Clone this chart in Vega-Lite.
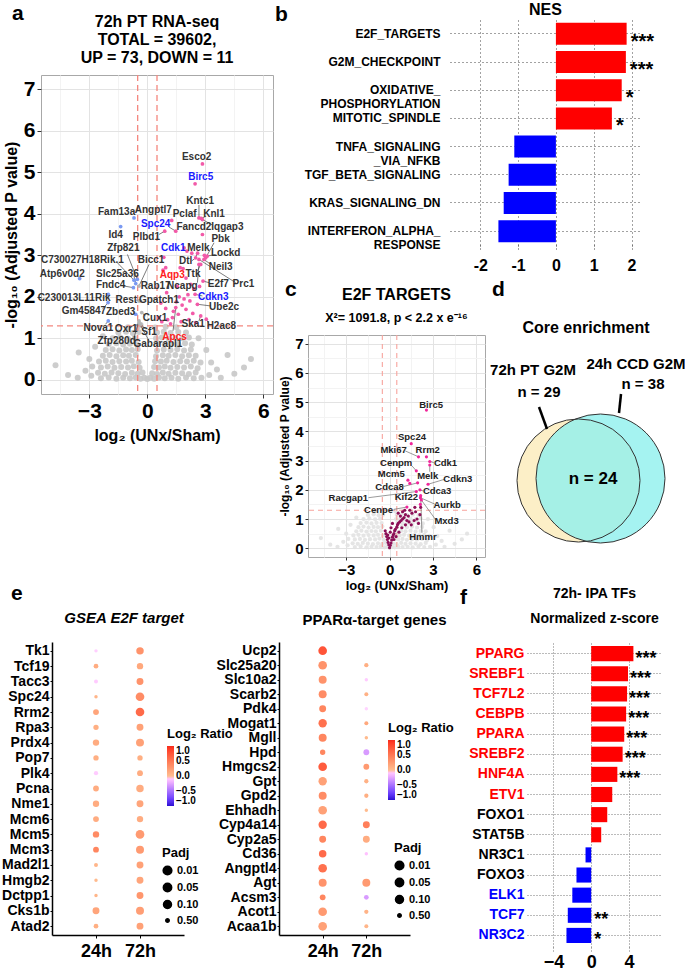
{
"$schema":"https://vega.github.io/schema/vega-lite/v6.json",
"padding":{"left":1,"top":2,"right":2,"bottom":2},
"background":"white",
"config":{
 "font":"Liberation Sans",
 "view":{"stroke":null},
 "axis":{"labelFontWeight":"bold","titleFontWeight":"bold","labelColor":"black","titleColor":"black","tickColor":"#333333","domainColor":"#333333"},
 "title":{"fontWeight":"bold","color":"black","anchor":"middle"},
 "legend":{"labelFontWeight":"bold","titleFontWeight":"bold","labelColor":"black","titleColor":"black"}
},
"datasets":{
 "cloud":[
  {"x":-2.4,"y":0.04},{"x":-2.0,"y":0.06},{"x":-1.6,"y":0.03},{"x":-1.25,"y":0.05},{"x":-0.9,"y":0.04},{"x":-0.6,"y":0.06},{"x":-0.35,"y":0.03},{"x":-0.15,"y":0.05},{"x":0.0,"y":0.02},{"x":0.15,"y":0.05},{"x":0.35,"y":0.03},{"x":0.6,"y":0.06},{"x":0.9,"y":0.04},{"x":1.25,"y":0.05},{"x":1.6,"y":0.03},{"x":2.0,"y":0.06},{"x":2.4,"y":0.04},{"x":2.8,"y":0.05},
  {"x":-2.55,"y":0.17},{"x":-2.2,"y":0.15},{"x":-1.85,"y":0.18},{"x":-1.5,"y":0.16},{"x":-1.15,"y":0.14},{"x":-0.8,"y":0.17},{"x":-0.5,"y":0.15},{"x":-0.25,"y":0.18},{"x":0.25,"y":0.16},{"x":0.5,"y":0.14},{"x":0.8,"y":0.18},{"x":1.1,"y":0.15},{"x":1.45,"y":0.17},{"x":1.8,"y":0.16},{"x":2.15,"y":0.14},{"x":2.5,"y":0.18},
  {"x":-2.4,"y":0.3},{"x":-2.05,"y":0.32},{"x":-1.7,"y":0.29},{"x":-1.35,"y":0.31},{"x":-1.0,"y":0.3},{"x":-0.7,"y":0.33},{"x":-0.4,"y":0.29},{"x":0.35,"y":0.31},{"x":0.6,"y":0.3},{"x":0.9,"y":0.32},{"x":1.2,"y":0.29},{"x":1.55,"y":0.31},{"x":1.9,"y":0.3},{"x":2.25,"y":0.32},{"x":2.6,"y":0.28},
  {"x":-2.5,"y":0.44},{"x":-2.15,"y":0.46},{"x":-1.8,"y":0.43},{"x":-1.45,"y":0.45},{"x":-1.1,"y":0.44},{"x":-0.8,"y":0.46},{"x":-0.45,"y":0.43},{"x":0.4,"y":0.45},{"x":0.7,"y":0.44},{"x":1.0,"y":0.46},{"x":1.35,"y":0.43},{"x":1.7,"y":0.45},{"x":2.05,"y":0.44},{"x":2.4,"y":0.46},{"x":2.75,"y":0.42},
  {"x":-2.3,"y":0.58},{"x":-1.95,"y":0.6},{"x":-1.6,"y":0.57},{"x":-1.25,"y":0.59},{"x":-0.95,"y":0.58},{"x":-0.6,"y":0.6},{"x":0.45,"y":0.57},{"x":0.8,"y":0.59},{"x":1.1,"y":0.58},{"x":1.45,"y":0.6},{"x":1.8,"y":0.57},{"x":2.15,"y":0.59},{"x":2.5,"y":0.58},
  {"x":-2.15,"y":0.72},{"x":-1.8,"y":0.74},{"x":-1.45,"y":0.71},{"x":-1.1,"y":0.73},{"x":-0.8,"y":0.72},{"x":-0.5,"y":0.74},{"x":0.5,"y":0.71},{"x":0.85,"y":0.73},{"x":1.2,"y":0.72},{"x":1.55,"y":0.74},{"x":1.9,"y":0.71},{"x":2.25,"y":0.73},
  {"x":-2.0,"y":0.86},{"x":-1.6,"y":0.88},{"x":-1.25,"y":0.85},{"x":-0.9,"y":0.87},{"x":-0.55,"y":0.86},{"x":0.55,"y":0.88},{"x":0.9,"y":0.85},{"x":1.25,"y":0.87},{"x":1.6,"y":0.86},{"x":1.95,"y":0.88},{"x":2.3,"y":0.85},
  {"x":-1.8,"y":1.0},{"x":-1.4,"y":1.02},{"x":-1.0,"y":0.99},{"x":-0.65,"y":1.01},{"x":0.45,"y":1.0},{"x":0.75,"y":1.02},{"x":1.1,"y":0.99},{"x":1.45,"y":1.01},{"x":1.8,"y":1.0},{"x":2.15,"y":1.02},
  {"x":-1.5,"y":1.14},{"x":-1.1,"y":1.16},{"x":-0.75,"y":1.13},{"x":-0.45,"y":1.15},{"x":0.5,"y":1.14},{"x":0.85,"y":1.16},{"x":1.2,"y":1.13},{"x":1.6,"y":1.15},{"x":2.0,"y":1.14},
  {"x":-1.0,"y":1.27},{"x":-0.5,"y":1.28},{"x":0.4,"y":1.26},{"x":0.95,"y":1.28},{"x":1.5,"y":1.27},
  {"x":-4.75,"y":0.35},{"x":-3.55,"y":0.66},{"x":-3.2,"y":0.22},{"x":-3.0,"y":0.5},{"x":-2.9,"y":0.1},{"x":-2.85,"y":0.32},{"x":-4.1,"y":0.12},{"x":-2.7,"y":0.8},{"x":3.2,"y":0.12},{"x":3.3,"y":0.42},{"x":3.6,"y":0.25},{"x":4.15,"y":0.6},{"x":4.5,"y":0.15},{"x":5.36,"y":0.5},{"x":5.0,"y":0.3},{"x":3.05,"y":0.72},{"x":2.65,"y":1.0},{"x":-0.35,"y":1.32},{"x":-2.3,"y":1.05},{"x":3.8,"y":0.05},{"x":-3.6,"y":0.05}
 ],
 "aPts":[
  {"x":2.85,"y":5.2,"g":"up"},{"x":2.47,"y":4.72,"g":"up"},{"x":2.67,"y":3.9,"g":"up"},{"x":2.79,"y":3.89,"g":"up"},{"x":2.85,"y":3.86,"g":"up"},{"x":1.26,"y":3.84,"g":"up"},{"x":1.47,"y":3.58,"g":"up"},{"x":0.9,"y":3.58,"g":"up"},{"x":2.85,"y":3.5,"g":"up"},{"x":1.9,"y":3.18,"g":"up"},{"x":2.5,"y":2.94,"g":"up"},{"x":3.02,"y":2.94,"g":"up"},{"x":3.1,"y":2.98,"g":"up"},{"x":2.93,"y":2.9,"g":"up"},{"x":2.76,"y":2.78,"g":"up"},{"x":2.67,"y":2.9,"g":"up"},{"x":2.88,"y":2.38,"g":"up"},{"x":2.47,"y":2.06,"g":"up"},{"x":2.59,"y":1.82,"g":"up"},{"x":2.76,"y":1.54,"g":"up"},{"x":3.05,"y":1.46,"g":"up"},{"x":1.47,"y":1.74,"g":"up"},{"x":0.81,"y":2.64,"g":"up"},{"x":0.85,"y":2.95,"g":"up"},{"x":0.95,"y":2.7,"g":"up"},{"x":1.7,"y":2.7,"g":"up"},{"x":1.85,"y":2.68,"g":"up"},{"x":2.05,"y":3.1,"g":"up"},{"x":2.3,"y":3.05,"g":"up"},{"x":2.6,"y":3.05,"g":"up"},{"x":2.95,"y":3.0,"g":"up"},{"x":2.0,"y":2.45,"g":"up"},{"x":2.25,"y":2.3,"g":"up"},{"x":2.4,"y":2.2,"g":"up"},{"x":2.7,"y":2.25,"g":"up"},{"x":1.65,"y":2.0,"g":"up"},{"x":1.9,"y":1.95,"g":"up"},{"x":2.1,"y":2.05,"g":"up"},{"x":1.5,"y":1.88,"g":"up"},{"x":1.8,"y":1.8,"g":"up"},{"x":1.35,"y":1.65,"g":"up"},{"x":1.6,"y":1.58,"g":"up"},{"x":2.0,"y":1.7,"g":"up"},{"x":2.35,"y":1.6,"g":"up"},{"x":1.05,"y":1.45,"g":"up"},{"x":1.3,"y":1.5,"g":"up"},{"x":1.75,"y":1.4,"g":"up"},{"x":2.15,"y":1.45,"g":"up"},{"x":0.75,"y":1.4,"g":"up"},{"x":0.95,"y":1.72,"g":"up"},{"x":1.2,"y":1.35,"g":"up"},{"x":2.5,"y":1.38,"g":"up"},{"x":1.55,"y":2.25,"g":"up"},{"x":2.2,"y":1.9,"g":"up"},{"x":0.6,"y":1.5,"g":"up"},{"x":0.7,"y":1.85,"g":"up"},{"x":1.0,"y":2.1,"g":"up"},{"x":2.67,"y":2.78,"g":"up"},
  {"x":-0.69,"y":3.9,"g":"down"},{"x":-1.38,"y":3.69,"g":"down"},{"x":-3.5,"y":2.44,"g":"down"},{"x":-0.52,"y":2.42,"g":"down"},{"x":-0.69,"y":2.4,"g":"down"},{"x":-0.6,"y":2.32,"g":"down"},{"x":-0.72,"y":2.22,"g":"down"},{"x":-2.02,"y":2.06,"g":"down"},{"x":-2.03,"y":1.86,"g":"down"},{"x":-2.02,"y":1.42,"g":"down"},{"x":-0.6,"y":1.58,"g":"down"},
  {"x":-0.43,"y":1.38,"g":"ns"},{"x":-0.43,"y":1.9,"g":"ns"},{"x":-0.29,"y":1.62,"g":"ns"},{"x":-0.34,"y":1.34,"g":"ns"},{"x":-0.43,"y":2.26,"g":"ns"},{"x":-0.4,"y":1.9,"g":"ns"},{"x":-0.43,"y":1.42,"g":"ns"}
 ],
 "aLab":[
  {"lab":"Esco2","lx":2.55,"ly":5.37,"c":"k"},
  {"lab":"Birc5","lx":2.76,"ly":4.89,"c":"b"},
  {"lab":"Kntc1","lx":2.73,"ly":4.3,"c":"k","ex":2.67,"ey":4.21,"px":2.67,"py":3.9},
  {"lab":"Knl1","lx":3.45,"ly":4.0,"c":"k","ex":3.05,"ey":3.94,"px":2.79,"py":3.89},
  {"lab":"Pclaf","lx":1.93,"ly":4.0,"c":"k"},
  {"lab":"Angptl7","lx":0.31,"ly":4.08,"c":"k"},
  {"lab":"Spc24","lx":0.43,"ly":3.76,"c":"b","ex":1.12,"ey":3.68,"px":1.47,"py":3.58},
  {"lab":"Iqgap3","lx":4.14,"ly":3.68,"c":"k","ex":3.36,"ey":3.73,"px":2.85,"py":3.86},
  {"lab":"Fancd2","lx":2.41,"ly":3.68,"c":"k"},
  {"lab":"Plbd1","lx":-0.05,"ly":3.44,"c":"k","ex":0.6,"ey":3.5,"px":0.9,"py":3.58},
  {"lab":"Fam13a","lx":-1.59,"ly":4.05,"c":"k"},
  {"lab":"Id4","lx":-1.64,"ly":3.5,"c":"k"},
  {"lab":"Zfp821","lx":-1.24,"ly":3.17,"c":"k","ex":-1.03,"ey":3.02,"px":-0.52,"py":2.42},
  {"lab":"C730027H18Rik.1","lx":-3.36,"ly":2.88,"c":"k","ex":-1.55,"ey":2.82,"px":-0.69,"py":2.4},
  {"lab":"Atp6v0d2","lx":-4.4,"ly":2.56,"c":"k"},
  {"lab":"Slc25a36","lx":-1.55,"ly":2.56,"c":"k","ex":-0.69,"ey":2.5,"px":-0.6,"py":2.32},
  {"lab":"Fndc4","lx":-1.9,"ly":2.28,"c":"k","ex":-1.21,"ey":2.26,"px":-0.72,"py":2.22},
  {"lab":"C230013L11Rik","lx":-3.79,"ly":1.98,"c":"k","ex":-2.19,"ey":2.0,"px":-2.02,"py":2.06},
  {"lab":"Gm45847","lx":-3.28,"ly":1.66,"c":"k","ex":-2.33,"ey":1.7,"px":-2.03,"py":1.86},
  {"lab":"Nova1","lx":-2.53,"ly":1.26,"c":"k","ex":-2.16,"ey":1.34,"px":-2.02,"py":1.42},
  {"lab":"Zbed3","lx":-1.38,"ly":1.63,"c":"k","ex":-0.74,"ey":1.62,"px":-0.6,"py":1.58},
  {"lab":"Oxr1","lx":-1.09,"ly":1.23,"c":"k","ex":-0.6,"ey":1.3,"px":-0.43,"py":1.38},
  {"lab":"Zfp280d","lx":-1.59,"ly":0.94,"c":"k","ex":-0.69,"ey":1.02,"px":-0.43,"py":1.42},
  {"lab":"Rest","lx":-1.09,"ly":1.92,"c":"k","ex":-0.57,"ey":1.92,"px":-0.43,"py":1.9},
  {"lab":"Gpatch1","lx":0.6,"ly":1.93,"c":"k","ex":-0.26,"ey":1.92,"px":-0.4,"py":1.9},
  {"lab":"Cux1","lx":0.4,"ly":1.48,"c":"k","ex":-0.09,"ey":1.54,"px":-0.29,"py":1.62},
  {"lab":"Sf1","lx":0.09,"ly":1.16,"c":"k","ex":-0.09,"ey":1.22,"px":-0.34,"py":1.34},
  {"lab":"Gabarapl1","lx":0.55,"ly":0.86,"c":"k","ex":0.09,"ey":0.94,"px":-0.43,"py":1.38},
  {"lab":"Bicc1","lx":0.19,"ly":2.88,"c":"k","ex":0.09,"ey":2.78,"px":-0.43,"py":2.26},
  {"lab":"Rab17","lx":0.43,"ly":2.26,"c":"k"},
  {"lab":"Ncapg","lx":1.81,"ly":2.25,"c":"k","ex":2.59,"ey":2.34,"px":2.67,"py":2.78},
  {"lab":"Aqp3","lx":1.29,"ly":2.52,"c":"r"},
  {"lab":"Cdk1","lx":1.34,"ly":3.17,"c":"b"},
  {"lab":"Melk","lx":2.64,"ly":3.17,"c":"k","ex":2.59,"ey":3.08,"px":2.5,"py":2.94},
  {"lab":"Pbk","lx":3.79,"ly":3.38,"c":"k","ex":3.45,"ey":3.3,"px":3.02,"py":2.94},
  {"lab":"Lockd","lx":4.05,"ly":3.06,"c":"k","ex":3.53,"ey":3.02,"px":3.1,"py":2.98},
  {"lab":"Dtl","lx":1.98,"ly":2.86,"c":"k","ex":2.29,"ey":2.86,"px":2.5,"py":2.94},
  {"lab":"Neil3","lx":3.79,"ly":2.72,"c":"k","ex":3.28,"ey":2.78,"px":2.93,"py":2.9},
  {"lab":"Ttk","lx":2.36,"ly":2.54,"c":"k","ex":2.59,"ey":2.62,"px":2.76,"py":2.78},
  {"lab":"Prc1","lx":4.97,"ly":2.3,"c":"k","ex":4.57,"ey":2.34,"px":2.67,"py":2.9},
  {"lab":"E2f7","lx":3.67,"ly":2.3,"c":"k","ex":3.19,"ey":2.34,"px":2.88,"py":2.38},
  {"lab":"Cdkn3","lx":3.41,"ly":2.0,"c":"b","ex":2.85,"ey":2.02,"px":2.47,"py":2.06},
  {"lab":"Ube2c","lx":3.97,"ly":1.75,"c":"k","ex":3.28,"ey":1.78,"px":2.59,"py":1.82},
  {"lab":"Ska1","lx":2.37,"ly":1.35,"c":"k","ex":2.67,"ey":1.42,"px":2.76,"py":1.54},
  {"lab":"H2ac8","lx":3.83,"ly":1.3,"c":"k","ex":3.19,"ey":1.35,"px":3.05,"py":1.46},
  {"lab":"Apcs","lx":1.41,"ly":1.04,"c":"r","ex":1.33,"ey":1.18,"px":1.47,"py":1.74}
 ],
 "cPts":[
  {"x":0.0,"y":0.02,"g":"p"},{"x":0.05,"y":0.1,"g":"p"},{"x":0.1,"y":0.18,"g":"p"},{"x":-0.05,"y":0.12,"g":"p"},{"x":-0.1,"y":0.2,"g":"p"},{"x":-0.15,"y":0.3,"g":"p"},{"x":-0.2,"y":0.4,"g":"p"},{"x":-0.25,"y":0.5,"g":"p"},{"x":-0.3,"y":0.6,"g":"p"},{"x":-0.12,"y":0.45,"g":"p"},{"x":0.15,"y":0.28,"g":"p"},{"x":0.2,"y":0.38,"g":"p"},{"x":0.25,"y":0.45,"g":"p"},{"x":0.3,"y":0.5,"g":"p"},{"x":0.35,"y":0.6,"g":"p"},{"x":0.4,"y":0.65,"g":"p"},{"x":0.5,"y":0.72,"g":"p"},{"x":0.55,"y":0.8,"g":"p"},{"x":0.6,"y":0.85,"g":"p"},{"x":0.7,"y":0.9,"g":"p"},{"x":0.8,"y":0.95,"g":"p"},{"x":0.9,"y":1.0,"g":"p"},{"x":1.0,"y":1.05,"g":"p"},{"x":0.75,"y":1.1,"g":"p"},{"x":1.1,"y":1.15,"g":"p"},{"x":1.2,"y":0.95,"g":"p"},{"x":1.35,"y":0.9,"g":"p"},{"x":1.5,"y":0.8,"g":"p"},{"x":1.7,"y":0.95,"g":"p"},{"x":1.9,"y":1.0,"g":"p"},{"x":2.0,"y":0.85,"g":"p"},{"x":0.45,"y":0.4,"g":"p"},{"x":0.3,"y":0.3,"g":"p"},{"x":0.65,"y":0.55,"g":"p"},{"x":1.55,"y":1.2,"g":"p"},{"x":1.8,"y":1.25,"g":"p"},{"x":2.1,"y":1.15,"g":"p"},{"x":0.9,"y":1.25,"g":"p"},{"x":1.05,"y":1.3,"g":"p"},{"x":1.4,"y":1.3,"g":"p"},{"x":1.75,"y":1.4,"g":"p"},{"x":2.15,"y":1.4,"g":"p"},{"x":0.6,"y":1.2,"g":"p"},{"x":-0.05,"y":0.35,"g":"p"},{"x":0.05,"y":0.55,"g":"p"},{"x":0.1,"y":0.7,"g":"p"},{"x":0.2,"y":0.85,"g":"p"},{"x":1.3,"y":1.1,"g":"p"},{"x":1.1,"y":0.8,"g":"p"},{"x":0.85,"y":0.7,"g":"p"},
  {"x":2.55,"y":4.73,"g":"m"},{"x":1.5,"y":3.58,"g":"m"},{"x":2.0,"y":3.13,"g":"m"},{"x":2.55,"y":3.13,"g":"m"},{"x":2.78,"y":2.97,"g":"m"},{"x":1.85,"y":2.65,"g":"m"},{"x":2.78,"y":2.85,"g":"m"},{"x":1.27,"y":2.33,"g":"m"},{"x":1.4,"y":2.22,"g":"m"},{"x":2.66,"y":2.19,"g":"m"},{"x":1.94,"y":2.24,"g":"m"},{"x":2.1,"y":2.0,"g":"m"},{"x":1.85,"y":1.94,"g":"m"},{"x":2.13,"y":1.73,"g":"m"},{"x":1.2,"y":1.41,"g":"m"},{"x":2.13,"y":1.5,"g":"m"},{"x":2.2,"y":1.65,"g":"m"},{"x":2.15,"y":1.8,"g":"m"}
 ],
 "cLab":[
  {"lab":"Birc5","lx":2.87,"ly":4.9},
  {"lab":"Spc24","lx":1.55,"ly":3.82},
  {"lab":"Mki67","lx":0.28,"ly":3.36,"ex":1.09,"ey":3.33,"px":2.0,"py":3.13},
  {"lab":"Rrm2","lx":2.64,"ly":3.36},
  {"lab":"Cdk1","lx":3.87,"ly":2.91,"ex":3.06,"ey":2.93,"px":2.78,"py":2.97},
  {"lab":"Cenpm","lx":0.46,"ly":2.93,"ex":1.55,"ey":2.82,"px":1.85,"py":2.65},
  {"lab":"Melk","lx":2.64,"ly":2.49,"ex":2.78,"ey":2.62,"px":2.78,"py":2.85},
  {"lab":"Mcm5","lx":0.12,"ly":2.53},
  {"lab":"Cdkn3","lx":4.72,"ly":2.38,"ex":3.8,"ey":2.36,"px":2.66,"py":2.19},
  {"lab":"Cdca8","lx":0.0,"ly":2.11,"ex":0.86,"ey":2.1,"px":1.94,"py":2.24},
  {"lab":"Cdca3","lx":3.29,"ly":1.96,"ex":2.31,"ey":1.96,"px":2.1,"py":2.0},
  {"lab":"Racgap1","lx":-2.85,"ly":1.73,"ex":-1.46,"ey":1.73,"px":1.85,"py":1.94},
  {"lab":"Kif22","lx":1.16,"ly":1.75},
  {"lab":"Aurkb","lx":3.98,"ly":1.47,"ex":3.17,"ey":1.5,"px":2.13,"py":1.73},
  {"lab":"Cenpe","lx":-0.76,"ly":1.3,"ex":0.28,"ey":1.33,"px":1.2,"py":1.41},
  {"lab":"Mxd3","lx":3.94,"ly":0.93,"ex":3.17,"ey":0.99,"px":2.2,"py":1.65},
  {"lab":"Hmmr","lx":2.31,"ly":0.39,"ex":2.24,"ey":0.53,"px":2.15,"py":1.8}
 ],
 "nes":[
  {"term":"E2F_TARGETS","nes":1.87,"st":"***"},
  {"term":"G2M_CHECKPOINT","nes":1.85,"st":"***"},
  {"term":"OXIDATIVE_ PHOSPHORYLATION","nes":1.74,"st":"*"},
  {"term":"MITOTIC_SPINDLE","nes":1.48,"st":"*"},
  {"term":"TNFA_SIGNALING _VIA_NFKB","nes":-1.1,"st":""},
  {"term":"TGF_BETA_SIGNALING","nes":-1.25,"st":""},
  {"term":"KRAS_SIGNALING_DN","nes":-1.38,"st":""},
  {"term":"INTERFERON_ALPHA_ RESPONSE","nes":-1.52,"st":""}
 ],
 "e2f":[
  {"gene":"Tk1","t":"24h","lr":-0.05,"padj":0.5},{"gene":"Tk1","t":"72h","lr":0.3,"padj":0.16},
  {"gene":"Tcf19","t":"24h","lr":0.12,"padj":0.42},{"gene":"Tcf19","t":"72h","lr":0.15,"padj":0.28},
  {"gene":"Tacc3","t":"24h","lr":-0.07,"padj":0.47},{"gene":"Tacc3","t":"72h","lr":0.3,"padj":0.22},
  {"gene":"Spc24","t":"24h","lr":0.05,"padj":0.5},{"gene":"Spc24","t":"72h","lr":0.35,"padj":0.01},
  {"gene":"Rrm2","t":"24h","lr":0.17,"padj":0.33},{"gene":"Rrm2","t":"72h","lr":0.6,"padj":0.01},
  {"gene":"Rpa3","t":"24h","lr":0.1,"padj":0.37},{"gene":"Rpa3","t":"72h","lr":0.2,"padj":0.22},
  {"gene":"Prdx4","t":"24h","lr":0.12,"padj":0.28},{"gene":"Prdx4","t":"72h","lr":0.2,"padj":0.1},
  {"gene":"Pop7","t":"24h","lr":0.1,"padj":0.37},{"gene":"Pop7","t":"72h","lr":0.1,"padj":0.37},
  {"gene":"Plk4","t":"24h","lr":-0.07,"padj":0.45},{"gene":"Plk4","t":"72h","lr":0.12,"padj":0.33},
  {"gene":"Pcna","t":"24h","lr":0.12,"padj":0.33},{"gene":"Pcna","t":"72h","lr":0.12,"padj":0.16},
  {"gene":"Nme1","t":"24h","lr":0.12,"padj":0.28},{"gene":"Nme1","t":"72h","lr":0.17,"padj":0.22},
  {"gene":"Mcm6","t":"24h","lr":0.12,"padj":0.33},{"gene":"Mcm6","t":"72h","lr":0.12,"padj":0.28},
  {"gene":"Mcm5","t":"24h","lr":0.35,"padj":0.28},{"gene":"Mcm5","t":"72h","lr":0.25,"padj":0.01},
  {"gene":"Mcm3","t":"24h","lr":0.4,"padj":0.33},{"gene":"Mcm3","t":"72h","lr":0.25,"padj":0.1},
  {"gene":"Mad2l1","t":"24h","lr":0.05,"padj":0.47},{"gene":"Mad2l1","t":"72h","lr":0.2,"padj":0.22},
  {"gene":"Hmgb2","t":"24h","lr":0.02,"padj":0.5},{"gene":"Hmgb2","t":"72h","lr":0.17,"padj":0.22},
  {"gene":"Dctpp1","t":"24h","lr":0.05,"padj":0.5},{"gene":"Dctpp1","t":"72h","lr":0.28,"padj":0.22},
  {"gene":"Cks1b","t":"24h","lr":0.17,"padj":0.22},{"gene":"Cks1b","t":"72h","lr":0.22,"padj":0.1},
  {"gene":"Atad2","t":"24h","lr":0.1,"padj":0.42},{"gene":"Atad2","t":"72h","lr":0.2,"padj":0.22}
 ],
 "ppar":[
  {"gene":"Ucp2","t":"24h","lr":0.75,"padj":0.01},
  {"gene":"Slc25a20","t":"24h","lr":0.3,"padj":0.01},{"gene":"Slc25a20","t":"72h","lr":0.1,"padj":0.45},
  {"gene":"Slc10a2","t":"24h","lr":0.3,"padj":0.1},{"gene":"Slc10a2","t":"72h","lr":-0.07,"padj":0.5},
  {"gene":"Scarb2","t":"24h","lr":0.35,"padj":0.1},{"gene":"Scarb2","t":"72h","lr":0.08,"padj":0.47},
  {"gene":"Pdk4","t":"24h","lr":0.4,"padj":0.22},{"gene":"Pdk4","t":"72h","lr":-0.03,"padj":0.5},
  {"gene":"Mogat1","t":"24h","lr":0.55,"padj":0.05},{"gene":"Mogat1","t":"72h","lr":0.15,"padj":0.47},
  {"gene":"Mgll","t":"24h","lr":0.4,"padj":0.1},{"gene":"Mgll","t":"72h","lr":0.02,"padj":0.5},
  {"gene":"Hpd","t":"24h","lr":0.4,"padj":0.37},{"gene":"Hpd","t":"72h","lr":-0.3,"padj":0.33},
  {"gene":"Hmgcs2","t":"24h","lr":0.7,"padj":0.01},{"gene":"Hmgcs2","t":"72h","lr":0.25,"padj":0.33},
  {"gene":"Gpt","t":"24h","lr":0.2,"padj":0.05},{"gene":"Gpt","t":"72h","lr":0.08,"padj":0.45},
  {"gene":"Gpd2","t":"24h","lr":0.35,"padj":0.1},{"gene":"Gpd2","t":"72h","lr":0.1,"padj":0.45},
  {"gene":"Ehhadh","t":"24h","lr":0.2,"padj":0.01},{"gene":"Ehhadh","t":"72h","lr":0.01,"padj":0.5},
  {"gene":"Cyp4a14","t":"24h","lr":0.6,"padj":0.05},{"gene":"Cyp4a14","t":"72h","lr":0.45,"padj":0.22},
  {"gene":"Cyp2a5","t":"24h","lr":0.4,"padj":0.22},{"gene":"Cyp2a5","t":"72h","lr":0.12,"padj":0.22},
  {"gene":"Cd36","t":"24h","lr":0.6,"padj":0.16},{"gene":"Cd36","t":"72h","lr":-0.12,"padj":0.5},
  {"gene":"Angptl4","t":"24h","lr":0.55,"padj":0.01},
  {"gene":"Agt","t":"24h","lr":0.3,"padj":0.1},{"gene":"Agt","t":"72h","lr":0.25,"padj":0.1},
  {"gene":"Acsm3","t":"24h","lr":0.4,"padj":0.33},{"gene":"Acsm3","t":"72h","lr":-0.3,"padj":0.42},
  {"gene":"Acot1","t":"24h","lr":0.25,"padj":0.01},{"gene":"Acot1","t":"72h","lr":0.07,"padj":0.45},
  {"gene":"Acaa1b","t":"24h","lr":0.2,"padj":0.01},{"gene":"Acaa1b","t":"72h","lr":0.05,"padj":0.47}
 ],
 "tfs":[
  {"tf":"PPARG","z":4.47,"st":"***"},{"tf":"SREBF1","z":3.9,"st":"***"},{"tf":"TCF7L2","z":3.8,"st":"***"},{"tf":"CEBPB","z":3.7,"st":"***"},{"tf":"PPARA","z":3.5,"st":"***"},{"tf":"SREBF2","z":3.33,"st":"***"},{"tf":"HNF4A","z":2.77,"st":"***"},{"tf":"ETV1","z":2.23,"st":""},{"tf":"FOXO1","z":1.7,"st":""},{"tf":"STAT5B","z":1.06,"st":""},{"tf":"NR3C1","z":-0.6,"st":""},{"tf":"FOXO3","z":-1.56,"st":""},{"tf":"ELK1","z":-2.0,"st":""},{"tf":"TCF7","z":-2.48,"st":"**"},{"tf":"NR3C2","z":-2.62,"st":"*"}
 ],
 "venn":[{"set":"PT","cx":70.5,"cy":145.5},{"set":"CCD","cx":92.5,"cy":143.5}],
 "vennTxt":[
  {"txt":"Core enrichment","tx":78,"ty":-7,"k":"title"},
  {"txt":"72h PT G2M","tx":25,"ty":35,"k":"lab"},{"txt":"n = 29","tx":31,"ty":57,"k":"lab"},
  {"txt":"24h CCD G2M","tx":128,"ty":29,"k":"lab"},{"txt":"n = 38","tx":135,"ty":49,"k":"lab"},
  {"txt":"n = 24","tx":85,"ty":144,"k":"mid"}
 ],
 "vennLines":[{"x1":31,"y1":72,"x2":39,"y2":94},{"x1":113,"y1":59,"x2":111,"y2":78}]
},
"spacing":-10,"bounds":"full",
"resolve":{"scale":{"x":"independent","y":"independent","color":"independent","size":"independent"},"axis":{"x":"independent","y":"independent"},"legend":{"color":"independent","size":"independent"}},
"vconcat":[
 {"hconcat":[
  {"vconcat":[
   {"width":232,"height":35,"data":{"values":[{"k":1}]},"mark":{"type":"point","opacity":0},"encoding":{},
    "title":{"text":"a","anchor":"start","fontSize":21,"dx":-29,"dy":22,"offset":1,"baseline":"alphabetic"}},
   {"width":232,"height":319,
    "view":{"stroke":"#a8a8a8","strokeWidth":1},
    "title":{"text":["72h PT RNA-seq","TOTAL = 39602,","UP = 73, DOWN = 11"],"fontSize":16,"lineHeight":18,"offset":8},
    "resolve":{"axis":{"x":"independent"}},
    "layer":[
     {"data":{"name":"cloud"},"mark":{"type":"circle","size":36,"color":"#c8c8c8","opacity":0.9},
      "encoding":{
       "x":{"field":"x","type":"quantitative","scale":{"domain":[-5.5,6.5],"nice":false,"zero":false},
        "axis":{"title":"log₂ (UNx/Sham)","values":[-3,0,3,6],"grid":true,"gridColor":"#e3e3e3","labelOverlap":false,"labelFlush":false,
         "domain":false,"tickSize":4,"labelFontSize":21,"titleFontSize":16,"labelPadding":2,"titlePadding":6}},
       "y":{"field":"y","type":"quantitative","scale":{"domain":[-0.34,7.34],"nice":false,"zero":false},
        "axis":{"title":"-log₁₀ (Adjusted P value)","values":[0,0.5,1,1.5,2,2.5,3,3.5,4,4.5,5,5.5,6,6.5,7],"labelExpr":"datum.value % 1 == 0 ? datum.label : ''","grid":true,"labelOverlap":"greedy","labelSeparation":0,"labelFlush":false,
         "gridColor":{"condition":{"test":"datum.value % 1 != 0","value":"#f3f3f3"},"value":"#e3e3e3"},
         "tickColor":{"condition":{"test":"datum.value % 1 != 0","value":"transparent"},"value":"#333333"},
         "domain":false,"tickSize":4,"labelFontSize":21,"titleFontSize":16,"labelPadding":2,"titlePadding":4}}
      }},
     {"data":{"values":[{"v":-0.5},{"v":0.5}]},"mark":{"type":"rule","color":"#f4877f","strokeDash":[6,4],"strokeWidth":1.3},
      "encoding":{"x":{"field":"v","type":"quantitative","axis":{"orient":"top","values":[-4.5,-1.5,1.5,4.5],"labels":false,"ticks":false,"domain":false,"grid":true,"gridColor":"#f3f3f3","title":null}}}},
     {"data":{"values":[{"v":1.301}]},"mark":{"type":"rule","color":"#f4877f","strokeDash":[6,4],"strokeWidth":1.3},"encoding":{"y":{"field":"v","type":"quantitative"}}},
     {"data":{"name":"aLab"},"transform":[{"filter":"isValid(datum.ex)"}],"mark":{"type":"rule","color":"#444444","strokeWidth":0.7},
      "encoding":{"x":{"field":"ex","type":"quantitative","axis":null},"y":{"field":"ey","type":"quantitative"},"x2":{"field":"px"},"y2":{"field":"py"}}},
     {"data":{"name":"aPts"},"mark":{"type":"circle","size":14,"opacity":1},
      "encoding":{"x":{"field":"x","type":"quantitative","axis":null},"y":{"field":"y","type":"quantitative"},
       "color":{"condition":[{"test":"datum.g == 'up'","value":"#f25aa8"},{"test":"datum.g == 'down'","value":"#7b9af2"}],"value":"#b5b5b5"}}},
     {"data":{"name":"aLab"},"mark":{"type":"text","fontSize":10,"fontWeight":"bold"},
      "encoding":{"x":{"field":"lx","type":"quantitative","axis":null},"y":{"field":"ly","type":"quantitative"},"text":{"field":"lab"},
       "color":{"condition":[{"test":"datum.c == 'b'","value":"#1a1aff"},{"test":"datum.c == 'r'","value":"#ff2020"}],"value":"#333333"}}}
    ]}
  ],"spacing":20,"bounds":"flush",
  "resolve":{"scale":{"x":"independent","y":"independent","color":"independent","size":"independent"},"axis":{"x":"independent","y":"independent"},"legend":{"color":"independent","size":"independent"}}},
  {"vconcat":[
   {"hconcat":[
     {"width":146,"height":225,"data":{"values":[{"k":1}]},"mark":{"type":"point","opacity":0},"encoding":{},
      "title":{"text":"b","anchor":"start","fontSize":21,"dx":-9,"dy":22,"offset":0,"baseline":"alphabetic"}},
     {"width":191,"height":225,
      "title":{"text":"NES","fontSize":16,"offset":6,"dy":17,"baseline":"alphabetic"},
      "data":{"name":"nes"},
      "layer":[
       {"mark":{"type":"bar"},
        "encoding":{
         "y":{"field":"term","type":"nominal","sort":null,"scale":{"paddingInner":0.22,"paddingOuter":0.1},
          "axis":{"title":null,"domain":false,"ticks":false,"grid":true,"gridDash":[1,3],"gridColor":"#444444","bandPosition":0.5,"labelFontSize":12,"labelPadding":10,"labelExpr":"split(datum.label, ' ')","labelLineHeight":14}},
         "x":{"field":"nes","type":"quantitative","scale":{"domain":[-2.8,2.25],"nice":false,"zero":false},
          "axis":{"title":null,"values":[-2,-1,0,1,2],"labelExpr":"'' + datum.value","domain":false,"grid":true,"gridDash":[1,3],"gridColor":"#444444","tickDash":[1,2],"tickColor":"#444444","tickSize":6,"labelFontSize":16,"labelPadding":6}},
         "x2":{"datum":0},
         "color":{"condition":{"test":"datum.nes > 0","value":"#ff0000"},"value":"#0000ff"}
        }},
       {"mark":{"type":"text","align":"left","baseline":"middle","dx":4,"dy":8,"fontSize":20,"fontWeight":"bold"},
        "encoding":{"y":{"field":"term","type":"nominal","sort":null},"x":{"field":"nes","type":"quantitative"},"text":{"field":"st"}}}
      ]}
    ],"spacing":20,"bounds":"flush",
    "resolve":{"scale":{"x":"independent","y":"independent","color":"independent","size":"independent"},"axis":{"x":"independent","y":"independent"},"legend":{"color":"independent","size":"independent"}}},
   {"hconcat":[
     {"width":24,"height":222,"data":{"values":[{"k":1}]},"mark":{"type":"point","opacity":0},"encoding":{},
      "title":{"text":"c","anchor":"start","fontSize":21,"dx":1,"dy":20,"offset":38,"baseline":"alphabetic"}},
     {"width":177,"height":222,
      "view":{"stroke":"#a8a8a8","strokeWidth":1},
      "title":{"text":"E2F TARGETS","subtitle":"X²=  1091.8, p < 2.2 x e⁻¹⁶","fontSize":16,"subtitleFontSize":12.5,"subtitleFontWeight":"bold","subtitleColor":"black","subtitlePadding":9,"offset":10},
      "resolve":{"axis":{"x":"independent","y":"independent"}},
      "layer":[
       {"data":{"name":"cloud"},"mark":{"type":"circle","size":18,"color":"#e2e2e2","opacity":0.9},
        "encoding":{
         "x":{"field":"x","type":"quantitative","scale":{"domain":[-5.64,6.6],"nice":false,"zero":false},
          "axis":{"title":"log₂ (UNx/Sham)","values":[-3,0,3,6],"grid":true,"gridColor":"#e3e3e3","labelOverlap":false,"labelFlush":false,
           "domain":false,"tickSize":3,"labelFontSize":15,"titleFontSize":13,"labelPadding":2,"titlePadding":2}},
         "y":{"field":"y","type":"quantitative","scale":{"domain":[-0.3,7.3],"nice":false,"zero":false},
          "axis":{"title":"-log₁₀ (Adjusted P value)","values":[0,1,2,3,4,5,6,7],"grid":true,"gridColor":"#e3e3e3","labelOverlap":false,"labelFlush":false,
           "domain":false,"tickSize":3,"labelFontSize":15,"titleFontSize":12,"labelPadding":2,"titlePadding":3}}
        }},
       {"data":{"values":[{"v":-0.5},{"v":0.5}]},"mark":{"type":"rule","color":"#f7a39c","strokeDash":[5,4],"strokeWidth":1.1},
        "encoding":{"x":{"field":"v","type":"quantitative","axis":{"orient":"top","values":[-4.5,-1.5,1.5,4.5],"labels":false,"ticks":false,"domain":false,"grid":true,"gridColor":"#f3f3f3","title":null}}}},
       {"data":{"values":[{"v":1.301}]},"mark":{"type":"rule","color":"#f7a39c","strokeDash":[5,4],"strokeWidth":1.1},
        "encoding":{"y":{"field":"v","type":"quantitative","axis":{"orient":"right","values":[0.5,1.5,2.5,3.5,4.5,5.5,6.5],"labels":false,"ticks":false,"domain":false,"grid":true,"gridColor":"#f3f3f3","title":null}}}},
       {"data":{"name":"cLab"},"transform":[{"filter":"isValid(datum.ex)"}],"mark":{"type":"rule","color":"#555555","strokeWidth":0.6},
        "encoding":{"x":{"field":"ex","type":"quantitative","axis":null},"y":{"field":"ey","type":"quantitative","axis":null},"x2":{"field":"px"},"y2":{"field":"py"}}},
       {"data":{"name":"cPts"},"mark":{"type":"circle","size":10,"opacity":1},
        "encoding":{"x":{"field":"x","type":"quantitative","axis":null},"y":{"field":"y","type":"quantitative","axis":null},
         "color":{"condition":{"test":"datum.g == 'm'","value":"#f0259a"},"value":"#8c1057"}}},
       {"data":{"name":"cLab"},"mark":{"type":"text","fontSize":9.5,"fontWeight":"bold","color":"#222222"},
        "encoding":{"x":{"field":"lx","type":"quantitative","axis":null},"y":{"field":"ly","type":"quantitative","axis":null},"text":{"field":"lab"}}}
      ]},
     {"width":23,"height":211,"data":{"values":[{"k":1}]},"mark":{"type":"point","opacity":0},"encoding":{},
      "title":{"text":"d","anchor":"start","fontSize":21,"dx":7,"dy":20,"offset":38,"baseline":"alphabetic"}},
     {"width":170,"height":211,
      "layer":[
       {"data":{"name":"venn"},"transform":[{"filter":"datum.set == 'PT'"}],"mark":{"type":"point","shape":"circle","filled":true,"size":15129,"color":"#fcefc7","opacity":1},
        "encoding":{"x":{"field":"cx","type":"quantitative","scale":{"domain":[0,170],"nice":false,"zero":false},"axis":null},
                    "y":{"field":"cy","type":"quantitative","scale":{"domain":[0,211],"nice":false,"zero":false,"reverse":true},"axis":null}}},
       {"data":{"name":"venn"},"transform":[{"filter":"datum.set == 'CCD'"}],"mark":{"type":"point","shape":"circle","filled":true,"size":16641,"color":"#8ef0ee","opacity":0.8},
        "encoding":{"x":{"field":"cx","type":"quantitative","axis":null},"y":{"field":"cy","type":"quantitative","axis":null}}},
       {"data":{"name":"venn"},"transform":[{"filter":"datum.set == 'PT'"}],"mark":{"type":"point","shape":"circle","filled":false,"size":15129,"stroke":"#333333","strokeWidth":1,"opacity":1},
        "encoding":{"x":{"field":"cx","type":"quantitative","axis":null},"y":{"field":"cy","type":"quantitative","axis":null}}},
       {"data":{"name":"venn"},"transform":[{"filter":"datum.set == 'CCD'"}],"mark":{"type":"point","shape":"circle","filled":false,"size":16641,"stroke":"#333333","strokeWidth":1,"opacity":1},
        "encoding":{"x":{"field":"cx","type":"quantitative","axis":null},"y":{"field":"cy","type":"quantitative","axis":null}}},
       {"data":{"name":"vennLines"},"mark":{"type":"rule","color":"black","strokeWidth":2.5},
        "encoding":{"x":{"field":"x1","type":"quantitative","axis":null},"y":{"field":"y1","type":"quantitative","axis":null},"x2":{"field":"x2"},"y2":{"field":"y2"}}},
       {"data":{"name":"vennTxt"},"transform":[{"filter":"datum.k == 'lab'"}],"mark":{"type":"text","fontSize":15,"fontWeight":"bold","color":"black"},
        "encoding":{"x":{"field":"tx","type":"quantitative","axis":null},"y":{"field":"ty","type":"quantitative","axis":null},"text":{"field":"txt"}}},
       {"data":{"name":"vennTxt"},"transform":[{"filter":"datum.k == 'title'"}],"mark":{"type":"text","fontSize":16,"fontWeight":"bold","color":"black"},
        "encoding":{"x":{"field":"tx","type":"quantitative","axis":null},"y":{"field":"ty","type":"quantitative","axis":null},"text":{"field":"txt"}}},
       {"data":{"name":"vennTxt"},"transform":[{"filter":"datum.k == 'mid'"}],"mark":{"type":"text","fontSize":17,"fontWeight":"bold","color":"black"},
        "encoding":{"x":{"field":"tx","type":"quantitative","axis":null},"y":{"field":"ty","type":"quantitative","axis":null},"text":{"field":"txt"}}}
      ]}
    ],"spacing":0,"bounds":"flush",
    "resolve":{"scale":{"x":"independent","y":"independent","color":"independent","size":"independent"},"axis":{"x":"independent","y":"independent"},"legend":{"color":"independent","size":"independent"}}}
  ],"spacing":6,"bounds":"full",
  "resolve":{"scale":{"x":"independent","y":"independent","color":"independent","size":"independent"},"axis":{"x":"independent","y":"independent"},"legend":{"color":"independent","size":"independent"}}}
 ],"spacing":0,"bounds":"full",
 "resolve":{"scale":{"x":"independent","y":"independent","color":"independent","size":"independent"},"axis":{"x":"independent","y":"independent"},"legend":{"color":"independent","size":"independent"}}},
 {"hconcat":[
  {"width":11,"height":293,"data":{"values":[{"k":1}]},"mark":{"type":"point","opacity":0},"encoding":{},
   "title":{"text":"e","anchor":"start","fontSize":21,"dx":-30,"dy":21,"offset":42,"baseline":"alphabetic"}},
  {"width":132,"height":293,
   "title":{"text":"GSEA E2F target","fontSize":15,"fontStyle":"italic","dx":6,"dy":14,"offset":18,"baseline":"alphabetic"},
   "data":{"name":"e2f"},
   "mark":{"type":"circle","opacity":1},
   "encoding":{
    "x":{"field":"t","type":"nominal","scale":{"type":"point","padding":1},"axis":{"title":null,"labelAngle":0,"labelFontSize":18,"domainColor":"black","domainWidth":1.5,"tickColor":"black","tickSize":3,"labelPadding":4}},
    "y":{"field":"gene","type":"nominal","sort":null,"scale":{"type":"point","padding":0.58},"axis":{"title":null,"labelFontSize":14,"domainColor":"black","domainWidth":1.5,"tickColor":"black","tickSize":2,"labelPadding":1}},
    "color":{"field":"lr","type":"quantitative","scale":{"domain":[-1,0,1],"range":["#2b0fd0","#ffffff","#f42b1c"]},
     "legend":{"title":"Log₂ Ratio","orient":"none","legendX":115,"legendY":86,"direction":"vertical","gradientLength":60,"gradientThickness":7,"values":[1,0.5,0,-0.5,-1],"format":".1f","labelFontSize":10,"titleFontSize":13}},
    "size":{"field":"padj","type":"quantitative","scale":{"domain":[0.01,0.5],"range":[75,12]},
     "legend":{"title":"Padj","orient":"none","legendX":110,"legendY":205,"values":[0.01,0.05,0.1,0.5],"format":".2f","symbolFillColor":"black","symbolStrokeColor":"black","labelFontSize":11,"titleFontSize":13}}
   }},
  {"width":95,"height":293,"data":{"values":[{"k":1}]},"mark":{"type":"point","opacity":0},"encoding":{}},
  {"width":131,"height":293,
   "title":{"text":"PPARα-target genes","fontSize":15,"dx":30,"dy":15,"offset":17,"baseline":"alphabetic"},
   "data":{"name":"ppar"},
   "mark":{"type":"circle","opacity":1},
   "encoding":{
    "x":{"field":"t","type":"nominal","scale":{"type":"point","padding":1},"axis":{"title":null,"labelAngle":0,"labelFontSize":18,"domainColor":"black","domainWidth":1.5,"tickColor":"black","tickSize":3,"labelPadding":4}},
    "y":{"field":"gene","type":"nominal","sort":null,"scale":{"type":"point","padding":0.6},"axis":{"title":null,"labelFontSize":14,"domainColor":"black","domainWidth":1.5,"tickColor":"black","tickSize":2,"labelPadding":1}},
    "color":{"field":"lr","type":"quantitative","scale":{"domain":[-1,0,1],"range":["#2b0fd0","#ffffff","#f42b1c"]},
     "legend":{"title":"Log₂ Ratio","orient":"none","legendX":109,"legendY":80,"direction":"vertical","gradientLength":60,"gradientThickness":7,"values":[1,0.5,0,-0.5,-1],"format":".1f","labelFontSize":10,"titleFontSize":13}},
    "size":{"field":"padj","type":"quantitative","scale":{"domain":[0.01,0.5],"range":[75,12]},
     "legend":{"title":"Padj","orient":"none","legendX":115,"legendY":200,"values":[0.01,0.05,0.1,0.5],"format":".2f","symbolFillColor":"black","symbolStrokeColor":"black","labelFontSize":11,"titleFontSize":13}}
   }},
  {"width":117,"height":293,"data":{"values":[{"k":1}]},"mark":{"type":"point","opacity":0},"encoding":{},
   "title":{"text":"f","anchor":"start","fontSize":21,"dx":50,"dy":19,"offset":36,"baseline":"alphabetic"}},
  {"width":135,"height":305,
   "title":{"text":"72h- IPA TFs","subtitle":"Normalized  z-score","fontSize":14,"subtitleFontSize":14,"subtitleFontWeight":"bold","subtitleColor":"black","subtitlePadding":11,"offset":16},
   "data":{"name":"tfs"},
   "layer":[
    {"mark":{"type":"bar"},
     "encoding":{
      "y":{"field":"tf","type":"nominal","sort":null,"scale":{"paddingInner":0.25,"paddingOuter":0.2},
       "axis":{"title":null,"domain":false,"ticks":false,"grid":true,"gridDash":[1,2],"gridColor":"#777777","bandPosition":0.5,"labelFontSize":14,"labelPadding":3,
        "labelColor":{"condition":[{"test":"indexof(['PPARG','SREBF1','TCF7L2','CEBPB','PPARA','SREBF2','HNF4A','ETV1'], datum.value) >= 0","value":"#ff0000"},{"test":"indexof(['ELK1','TCF7','NR3C2'], datum.value) >= 0","value":"#0000ff"}],"value":"black"}}},
      "x":{"field":"z","type":"quantitative","scale":{"domain":[-6.8,7.5],"nice":false,"zero":false},
       "axis":{"title":null,"values":[-4,0,4],"domain":false,"grid":true,"gridDash":[1,2],"gridColor":"#777777","tickDash":[1,2],"tickColor":"#777777","tickSize":4,"labelFontSize":18,"labelPadding":2}},
      "x2":{"datum":0},
      "color":{"condition":{"test":"datum.z > 0","value":"#ff0000"},"value":"#0000ff"}
     }},
    {"transform":[{"filter":"datum.z > 0"}],"mark":{"type":"text","align":"left","baseline":"middle","dx":2,"dy":5,"fontSize":18,"fontWeight":"bold"},
     "encoding":{"y":{"field":"tf","type":"nominal","sort":null},"x":{"field":"z","type":"quantitative"},"text":{"field":"st"}}},
    {"transform":[{"filter":"datum.z < 0"}],"mark":{"type":"text","align":"left","baseline":"middle","dx":3,"dy":5,"fontSize":18,"fontWeight":"bold"},
     "encoding":{"y":{"field":"tf","type":"nominal","sort":null},"x":{"datum":0},"text":{"field":"st"}}}
   ]}
 ],"spacing":0,"bounds":"flush",
 "resolve":{"scale":{"x":"independent","y":"independent","color":"independent","size":"independent"},"axis":{"x":"independent","y":"independent"},"legend":{"color":"independent","size":"independent"}}}
]
}
